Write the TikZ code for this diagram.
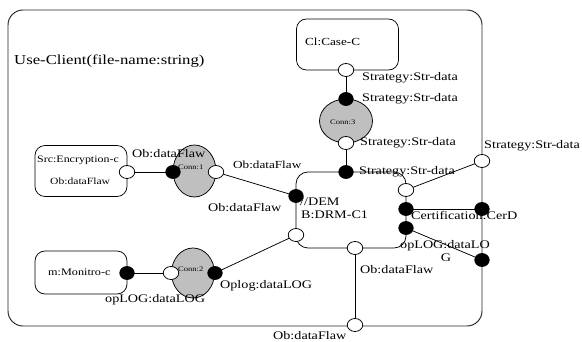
\documentclass[tikz,border=0pt]{standalone}
\usepackage{fontspec}
\setmainfont[FakeStretch=1.22]{Liberation Serif}
\usetikzlibrary{shapes.geometric}
\pgfdeclarelayer{bg}
\pgfdeclarelayer{lines}
\pgfdeclarelayer{top}
\pgfsetlayers{bg,main,lines,top}
\tikzset{
  lbl/.style={anchor=mid west, inner sep=0pt, font=\fontsize{11.6}{12}\selectfont},
  smalllbl/.style={anchor=mid west, inner sep=0pt, font=\fontsize{9.8}{11}\selectfont},
  connlbl/.style={anchor=mid west, inner sep=0pt, font=\fontsize{7}{8}\selectfont},
  comp/.style={draw, rounded corners=10pt, line width=0.75pt, inner sep=0pt},
  connshape/.style={draw, ellipse, fill=black!25, line width=0.75pt, inner sep=0pt},
  op/.style={draw, ellipse, fill=white, minimum width=15.5pt, minimum height=13pt, inner sep=0pt, line width=0.75pt},
  bp/.style={draw, ellipse, fill=black, minimum width=14.5pt, minimum height=13pt, inner sep=0pt, line width=0.75pt},
  wire/.style={line width=0.75pt}
}
\begin{document}
\begin{tikzpicture}[x=1pt,y=-1pt]
\useasboundingbox (0,0) rectangle (582,342);
% boxes
\begin{pgfonlayer}{bg}
\node[comp, draw=black!85, line width=0.95pt, rounded corners=15pt, minimum width=474pt, minimum height=316pt] (outer) at (245,168) {};
\node[comp, minimum width=102pt, minimum height=51pt] (case) at (347.5,44.5) {};
\node[comp, minimum width=92pt, minimum height=51pt] (src) at (81,171) {};
\node[comp, minimum width=92pt, minimum height=43pt] (mon) at (81,272.5) {};
\node[comp, rounded corners=12pt, minimum width=110pt, minimum height=76pt] (drm) at (351,210) {};
\node[connshape, minimum width=43pt, minimum height=52pt] (c1) at (194.5,171) {};
\node[connshape, minimum width=43pt, minimum height=50pt] (c2) at (193,273) {};
\node[connshape, minimum width=53pt, minimum height=44pt] (c3) at (346,121) {};
\end{pgfonlayer}
% labels
\node[anchor=mid west, inner sep=0pt, font=\fontsize{13.7}{15}\selectfont] (title) at (14,62) {Use-Client(file-name:string)};
\node[anchor=mid west, inner sep=0pt, font=\fontsize{10.8}{12}\selectfont] (tcase) at (305,43) {Cl:Case-C};
\node[lbl] (s1) at (362,78) {Strategy:Str-data};
\node[lbl] (s2) at (362,99) {Strategy:Str-data};
\node[lbl] (s3) at (360,143) {Strategy:Str-data};
\node[lbl] (s4) at (359,172) {Strategy:Str-data};
\node[lbl] (s5) at (484,146) {Strategy:Str-data};
\node[smalllbl] (tsrc) at (37,160) {Src:Encryption-c};
\node[smalllbl, font=\fontsize{9.5}{11}\selectfont] (tsrcob) at (50,182) {Ob:dataFlaw};
\node[lbl] (ob1) at (132,155) {Ob:dataFlaw};
\node[connlbl] (tc1) at (178,167) {Conn:1};
\node[lbl, font=\fontsize{10.8}{12}\selectfont] (ob2) at (233,166) {Ob:dataFlaw};
\node[lbl] (ob3) at (208,209) {Ob:dataFlaw};
\node[lbl] (dem) at (300,203) {//DEM};
\node[lbl] (drmt) at (301,216) {B:DRM-C1};
\node[lbl] (cert) at (411,217) {Certification:CerD};
\node[lbl] (oplog1) at (400,246) {opLOG:dataLO};
\node[lbl, anchor=mid] (oplog1g) at (446,259) {G};
\node[lbl] (ob4) at (360,271) {Ob:dataFlaw};
\node[lbl] (ob5) at (273,337) {Ob:dataFlaw};
\node[lbl] (oplog2) at (220,286) {Oplog:dataLOG};
\node[lbl] (oplog3) at (105,300) {opLOG:dataLOG};
\node[connlbl] (tc2) at (178,269) {Conn:2};
\node[connlbl] (tc3) at (330,122) {Conn:3};
\node[smalllbl, font=\fontsize{10}{12}\selectfont] (tmon) at (48,273) {m:Monitro-c};
% ports
\begin{pgfonlayer}{top}
\node[op] (srcP) at (127,172) {};
\node[bp] (c1L) at (173,172) {};
\node[op] (c1R) at (216,172) {};
\node[bp] (monP) at (127,273) {};
\node[op] (c2L) at (171,273) {};
\node[bp] (c2R) at (215,273) {};
\node[op] (caseP) at (346,70) {};
\node[bp] (c3T) at (346,99) {};
\node[op] (c3B) at (346,143) {};
\node[bp] (drmT) at (346,172) {};
\node[bp] (drmL1) at (296,196) {};
\node[op] (drmL2) at (296,235) {};
\node[op] (drmB) at (355,248) {};
\node[op] (drmR1) at (406,190) {};
\node[bp] (drmR2) at (406,209) {};
\node[bp] (drmR3) at (406,228) {};
\node[op] (outR1) at (482,161) {};
\node[bp] (outR2) at (482,209) {};
\node[bp] (outR3) at (482,260) {};
\node[op] (outB) at (355,325) {};
\end{pgfonlayer}
% wires
\begin{pgfonlayer}{lines}
\draw[wire] (srcP.center) -- (c1L.center);
\draw[wire] (c1R.center) -- (drmL1.center);
\draw[wire] (monP.center) -- (c2L.center);
\draw[wire] (c2R.center) -- (drmL2.center);
\draw[wire] (caseP.center) -- (c3T.center);
\draw[wire] (c3B.center) -- (drmT.center);
\draw[wire] (drmR1.center) -- (outR1.center);
\draw[wire] (drmR2.center) -- (outR2.center);
\draw[wire] (drmR3.center) -- (outR3.center);
\draw[wire] (drmB.center) -- (outB.center);
\end{pgfonlayer}
\end{tikzpicture}
\end{document}
